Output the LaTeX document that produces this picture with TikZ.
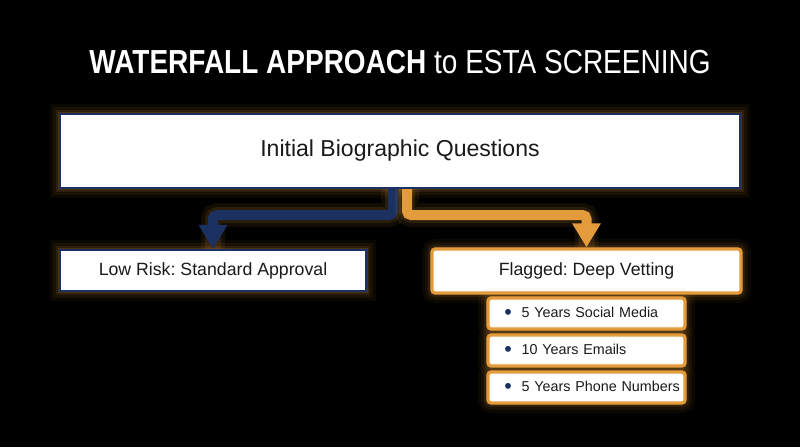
\documentclass[tikz,border=0pt]{standalone}
\usepackage{fontspec}
\setmainfont{Liberation Sans}
\newfontfamily\titlefont[FakeStretch=0.84]{Liberation Sans}
\usetikzlibrary{arrows.meta,positioning}
\frenchspacing
\definecolor{navy}{HTML}{1B3161}
\definecolor{amber}{HTML}{E39B3B}
\definecolor{ink}{HTML}{1A1A1A}
\tikzset{
  glow/.style={preaction={draw=amber,line width=5mm,opacity=.05},
    preaction={draw=amber,line width=3.4mm,opacity=.07},
    preaction={draw=amber,line width=2mm,opacity=.1},
    preaction={draw=amber,line width=1mm,opacity=.16}},
  stage/.style={glow, draw=navy, line width=0.5mm, fill=white, text=ink},
  flagbox/.style={glow, draw=amber, line width=0.8mm, fill=white, rounded corners=0.8mm, text=ink},
  item/.style={flagbox, minimum width=49.25mm, minimum height=7.75mm, inner xsep=0pt,
    text width=49mm, align=left, font=\fontsize{10.2}{12}\selectfont},
  flow/.style={line width=2.5mm, rounded corners=1mm, -{Triangle[width=6.75mm,length=6mm]},
    preaction={draw=amber,line width=6mm,opacity=.08,-},
    preaction={draw=amber,line width=4mm,opacity=.12,-}},
}
\newcommand\itemdot{\hspace*{4mm}\textcolor{navy}{\raisebox{-0.3ex}{\scalebox{1.5}{\textbullet}}}\hspace{2.4mm}}
\begin{document}
\begin{tikzpicture}[x=0.025cm,y=-0.025cm]
\fill[black] (0,0) rectangle (800,447);
\useasboundingbox (0,0) rectangle (800,447);

\node[text=white, font=\titlefont\fontsize{23.7}{28}\selectfont] (title) at (400,62)
  {\textbf{WATERFALL APPROACH} to ESTA SCREENING};

% top of the waterfall
\node[stage, minimum width=170mm, minimum height=18.5mm, font=\fontsize{16.4}{19}\selectfont]
  (bio) at (400,151) {Initial Biographic Questions};

% the two outcomes
\node[stage, minimum width=76.5mm, minimum height=10.25mm, font=\fontsize{12.6}{15}\selectfont]
  (low) at (213,270.5) {Low Risk: Standard Approval};
\node[flagbox, minimum width=77.25mm, minimum height=11mm, font=\fontsize{12.6}{15}\selectfont]
  (flag) at (586.5,271) {Flagged: Deep Vetting};

\draw[flow, navy] ([xshift=-1.75mm]bio.south) -- ++(0,26) -| (low.north);
\draw[flow, amber] ([xshift=1.75mm]bio.south) -- ++(0,26) -| (flag.north);

% what deep vetting asks for
\node[item] (social) at (586.5,313.5) {\itemdot 5 Years Social Media};
\node[item] (mail) at (586.5,350.5) {\itemdot 10 Years Emails};
\node[item] (phone) at (586.5,387.5) {\itemdot 5 Years Phone Numbers};
\end{tikzpicture}
\end{document}
